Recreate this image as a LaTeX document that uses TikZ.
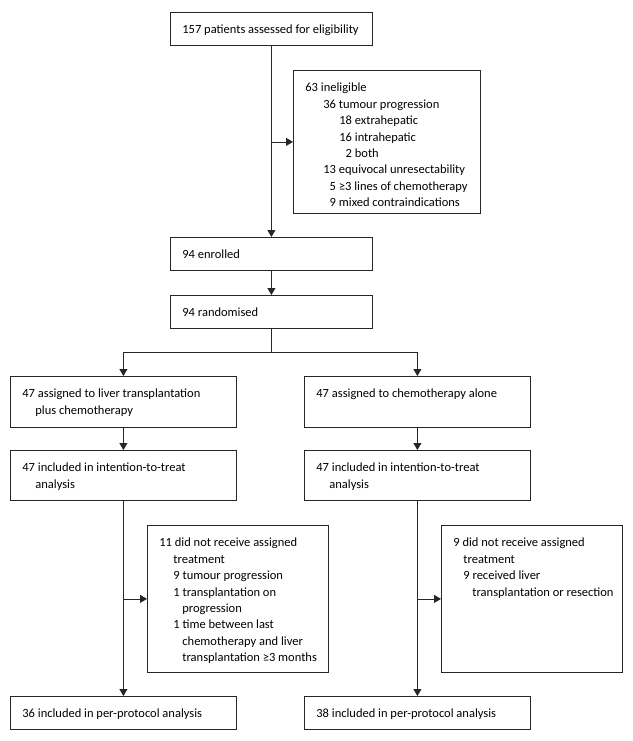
\documentclass[tikz,border=0pt]{standalone}
\usepackage{fontspec}
\setmainfont{Carlito}
\usepackage{tikz}
\usetikzlibrary{arrows.meta}
\newcommand{\boxtext}[3]{\parbox[t][#2][t]{#1}{\raggedright\leftskip=12pt\relax\rule{0pt}{21.5pt}#3}}
\newcommand{\ind}[1]{\hspace*{#1pt}}

\begin{document}
\begin{tikzpicture}[x=1pt, y=-1pt, line width=0.8pt, black!85,
    >={Triangle[length=7pt,width=8pt]},
    font=\fontsize{12.5pt}{16.4pt}\selectfont,
    box/.style={draw, anchor=north west, inner sep=0pt, text=black}]
  \useasboundingbox (0,0) rectangle (632,741);

  % screening
  \node[box] (assessed) at (170,12) {\boxtext{202pt}{33pt}{157 patients assessed for eligibility}};
  \node[box] (inelig) at (293,70) {\boxtext{187pt}{143pt}{63 ineligible\\
      \ind{18}36 tumour progression\\
      \ind{34}18 extrahepatic\\
      \ind{34}16 intrahepatic\\
      \ind{34}\phantom{1}2 both\\
      \ind{18}13 equivocal unresectability\\
      \ind{18}\phantom{1}5 ≥3 lines of chemotherapy\\
      \ind{18}\phantom{1}9 mixed contraindications}};
  \node[box] (enrolled) at (170,237) {\boxtext{202pt}{33pt}{94 enrolled}};
  \node[box] (random) at (170,295) {\boxtext{202pt}{33pt}{94 randomised}};

  % the two arms
  \node[box] (lassign) at (10,376) {\boxtext{226pt}{51pt}{47 assigned to liver transplantation\\
      \ind{13}plus chemotherapy}};
  \node[box] (rassign) at (304,376) {\boxtext{226pt}{51pt}{47 assigned to chemotherapy alone}};
  \node[box] (litt) at (10,450) {\boxtext{226pt}{50pt}{47 included in intention-to-treat\\
      \ind{13}analysis}};
  \node[box] (ritt) at (304,450) {\boxtext{226pt}{50pt}{47 included in intention-to-treat\\
      \ind{13}analysis}};
  \node[box] (lexcl) at (147,525) {\boxtext{181pt}{147pt}{11 did not receive assigned\\
      \ind{14}treatment\\
      \ind{14}9 tumour progression\\
      \ind{14}1 transplantation on\\
      \ind{23}progression\\
      \ind{14}1 time between last\\
      \ind{23}chemotherapy and liver\\
      \ind{23}transplantation ≥3 months}};
  \node[box] (rexcl) at (441,525) {\boxtext{181pt}{147pt}{9 did not receive assigned\\
      \ind{10}treatment\\
      \ind{10}9 received liver\\
      \ind{19}transplantation or resection}};
  \node[box] (lpp) at (10,696) {\boxtext{226pt}{33pt}{36 included in per-protocol analysis}};
  \node[box] (rpp) at (304,696) {\boxtext{226pt}{33pt}{38 included in per-protocol analysis}};

  \draw[->] (assessed) -- (enrolled);
  \draw[->] (assessed.south |- inelig.west) -- (inelig.west);
  \draw[->] (enrolled) -- (random);
  \draw[->] (random.south) -- ++(0,24) -| (lassign.north);
  \draw[->] (random.south) -- ++(0,24) -| (rassign.north);

  \draw[->] (lassign) -- (litt);
  \draw[->] (rassign) -- (ritt);
  \draw[->] (litt) -- (lpp);
  \draw[->] (ritt) -- (rpp);
  \draw[->] (litt.south |- lexcl.west) -- (lexcl.west);
  \draw[->] (ritt.south |- rexcl.west) -- (rexcl.west);
\end{tikzpicture}
\end{document}
